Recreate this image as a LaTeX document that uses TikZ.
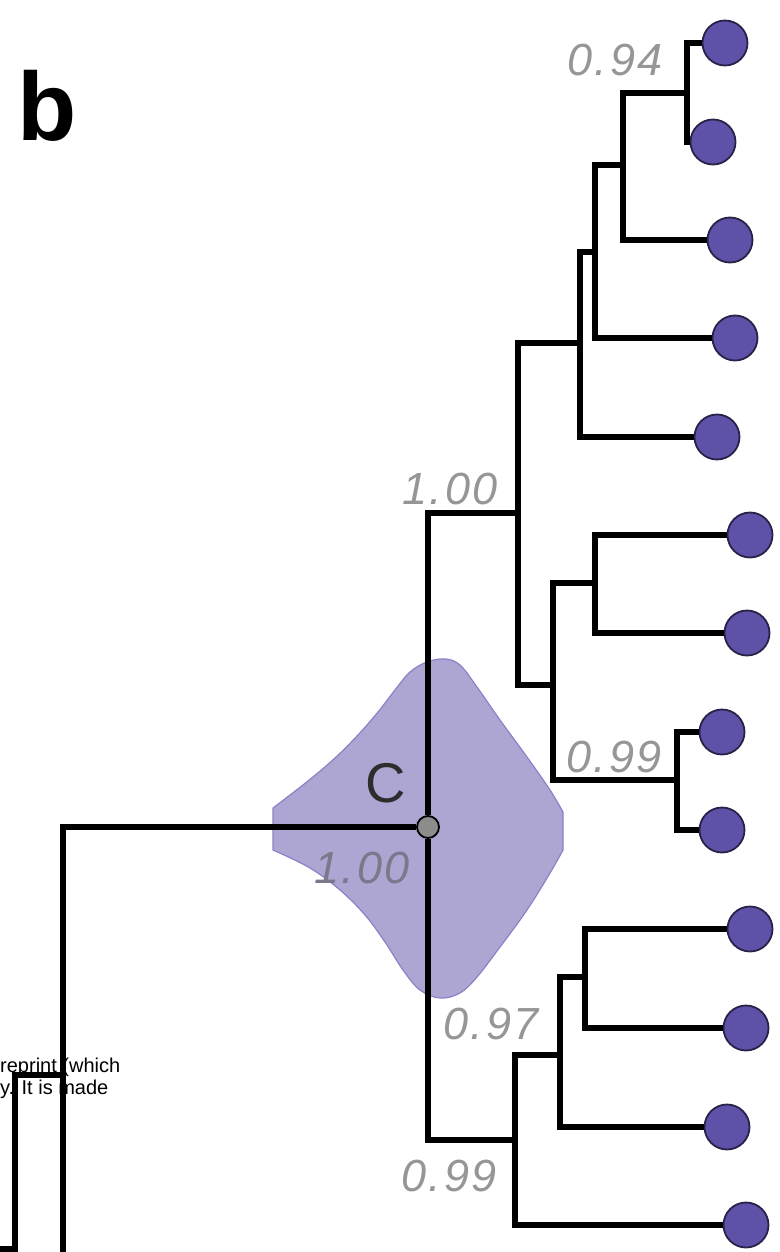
\documentclass[tikz,border=0pt]{standalone}
\usepackage{fontspec}
\setmainfont{Liberation Sans}

\definecolor{leafpurple}{RGB}{94,81,168}
\definecolor{leafrim}{RGB}{40,34,72}
\definecolor{violinfill}{RGB}{174,166,210}
\definecolor{violinrim}{RGB}{140,128,200}
\definecolor{supportgrey}{RGB}{150,150,150}
\definecolor{cladegrey}{RGB}{140,140,140}

\begin{document}
\begin{tikzpicture}[x=1pt,y=-1pt,
	leaf/.style={circle,draw=leafrim,fill=leafpurple,line width=1.8pt,minimum size=45pt,inner sep=0pt},
	clade/.style={circle,draw=black,fill=cladegrey,line width=1.8pt,minimum size=22pt,inner sep=0pt},
	support/.style={text=supportgrey,inner sep=0pt,font=\fontsize{45}{45}\selectfont\itshape\addfontfeature{LetterSpace=6}},
	branch/.style={draw,line width=6.5pt,line join=miter},
	elbow/.style={to path={|- (\tikztotarget)}}]
	\useasboundingbox (0,0) rectangle (779,1252);
	\clip (0,0) rectangle (779,1252);

	\filldraw[fill=violinfill,draw=violinrim,line width=1.2pt]
		plot[smooth,tension=0.6] coordinates {(563,812) (550,790) (527,757) (500,720) (477,687) (460,665) (445,659)
			(427,662) (410,672) (395,690) (378,712) (358,735) (335,758) (308,781) (273,808)}
		-- plot[smooth,tension=0.6] coordinates {(273,850) (310,868) (340,890) (365,915) (385,942) (403,970) (420,990)
			(440,998) (460,993) (477,977) (500,947) (527,910) (550,873) (563,850)}
		-- cycle;

	\node[anchor=base west,inner sep=0pt,font=\fontsize{97}{97}\selectfont\bfseries] (panel) at (17,141) {b};
	\node[anchor=base west,inner sep=0pt,font=\fontsize{20}{20}\selectfont] (wm1) at (0,1072) {reprint (which};
	\node[anchor=base west,inner sep=0pt,font=\fontsize{20}{20}\selectfont] (wm2) at (0,1094) {y. It is made};

	\node[leaf] (l1) at (725,43) {};
	\node[leaf] (l2) at (713,142) {};
	\node[leaf] (l3) at (730,240) {};
	\node[leaf] (l4) at (735,338) {};
	\node[leaf] (l5) at (717,437) {};
	\node[leaf] (l6) at (750,535) {};
	\node[leaf] (l7) at (747,633) {};
	\node[leaf] (l8) at (722,732) {};
	\node[leaf] (l9) at (722,830) {};
	\node[leaf] (l10) at (750,929) {};
	\node[leaf] (l11) at (746,1028) {};
	\node[leaf] (l12) at (727,1127) {};
	\node[leaf] (l13) at (746,1225) {};

	\coordinate (a1) at (687,93);
	\coordinate (a2) at (623,165);
	\coordinate (a3) at (595,252);
	\coordinate (a4) at (580,343);
	\coordinate (a5) at (518,513);
	\coordinate (b1) at (553,685);
	\coordinate (b2) at (595,583);
	\coordinate (b3) at (677,780);
	\node[clade] (C) at (428,827) {};
	\coordinate (d1) at (515,1140);
	\coordinate (d2) at (560,1055);
	\coordinate (d3) at (585,977);
	\coordinate (f) at (63,1075);
	\coordinate (fdown) at (63,1270);
	\coordinate (g) at (15,1249);
	\coordinate (gleft) at (-10,1249);
	\coordinate (gdown) at (15,1270);

	\node[support] (s94) at (615,60) {0.94};
	\node[support] (s100a) at (450,489) {1.00};
	\node[support] (s99a) at (614,757) {0.99};
	\node[inner sep=0pt,text={rgb,255:red,45;green,45;blue,45},font=\fontsize{56}{56}\selectfont] (cname) at (386,783) {C};
	\node[support,text={rgb,255:red,122;green,120;blue,138}] (s100b) at (362,868) {1.00};
	\node[support] (s97) at (491,1024) {0.97};
	\node[support] (s99b) at (449,1176) {0.99};

	\path [branch]
	(a1) edge[elbow] (l1)
	(a1) edge[elbow] (l2)
	(a2) edge[elbow] (a1)
	(a2) edge[elbow] (l3)
	(a3) edge[elbow] (a2)
	(a3) edge[elbow] (l4)
	(a4) edge[elbow] (a3)
	(a4) edge[elbow] (l5)
	(a5) edge[elbow] (a4)
	(a5) edge[elbow] (b1)
	(b1) edge[elbow] (b2)
	(b1) edge[elbow] (b3)
	(b2) edge[elbow] (l6)
	(b2) edge[elbow] (l7)
	(b3) edge[elbow] (l8)
	(b3) edge[elbow] (l9)
	(C) edge[elbow] (a5)
	(C) edge[elbow] (d1)
	(d1) edge[elbow] (d2)
	(d1) edge[elbow] (l13)
	(d2) edge[elbow] (d3)
	(d2) edge[elbow] (l12)
	(d3) edge[elbow] (l10)
	(d3) edge[elbow] (l11)
	(f) edge[elbow] (C)
	(f) edge (fdown)
	(g) edge[elbow] (f)
	(g) edge (gdown)
	(gleft) edge (g);
\end{tikzpicture}
\end{document}
